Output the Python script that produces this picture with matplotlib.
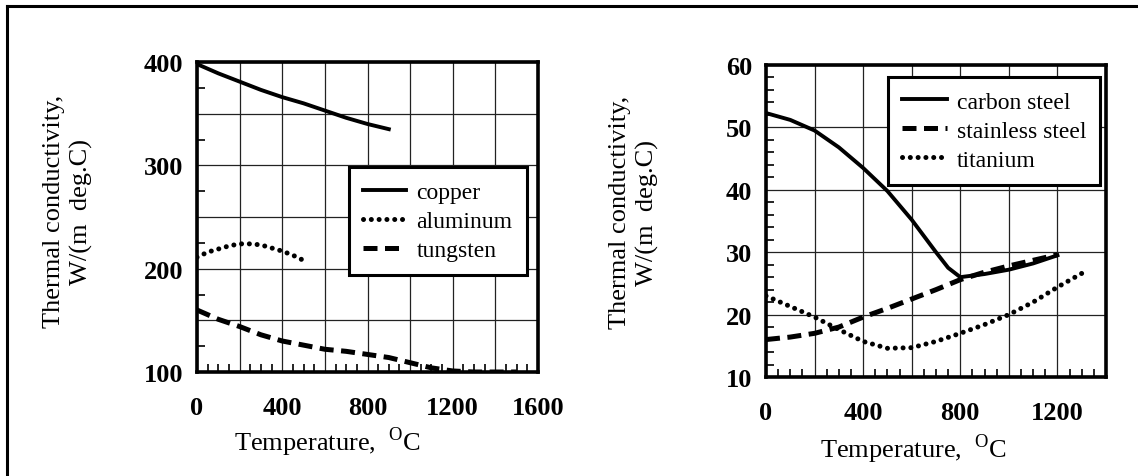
import matplotlib
matplotlib.use('Agg')
from matplotlib import pyplot as plt
from matplotlib.ticker import MultipleLocator, FuncFormatter
from matplotlib.lines import Line2D

plt.rcParams['font.family'] = ['Liberation Serif', 'DejaVu Serif']
plt.rcParams['mathtext.fontset'] = 'custom'
plt.rcParams['mathtext.rm'] = 'Liberation Serif'

# left panel: copper, aluminum, tungsten
copper_t = [0, 100, 200, 300, 400, 500, 600, 700, 800, 900]
copper_k = [398, 389, 381, 373, 366, 360, 353, 346, 340, 335]
aluminum_t = [0, 50, 100, 150, 200, 250, 300, 350, 400, 450, 500]
aluminum_k = [211, 216, 219, 222, 224, 224, 223, 220, 217, 213, 208]
tungsten_t = [0, 100, 200, 300, 400, 500, 600, 700, 800, 900, 1000, 1100, 1200, 1300, 1400, 1500]
tungsten_k = [160, 151, 144, 136, 130, 126, 122, 120, 117, 114, 109, 104, 101, 100, 100, 100]

# right panel: carbon steel, stainless steel, titanium
carbon_t = [0, 100, 200, 300, 400, 500, 600, 700, 750, 800, 900, 1000, 1100, 1200]
carbon_k = [52.3, 51.2, 49.5, 46.8, 43.5, 39.8, 35.2, 30, 27.5, 26, 26.5, 27.2, 28.2, 29.5]
stainless_t = [0, 100, 200, 300, 400, 500, 600, 700, 800, 900, 1000, 1100, 1200]
stainless_k = [16, 16.4, 17, 18, 19.6, 21, 22.5, 24, 25.6, 26.8, 27.8, 28.7, 29.6]
titanium_t = [0, 100, 200, 300, 400, 500, 600, 700, 800, 900, 1000, 1100, 1200, 1300]
titanium_k = [23, 21.3, 19.6, 17.6, 15.7, 14.6, 14.7, 15.7, 17, 18.4, 20, 22, 24.4, 26.6]

ylabel = 'Thermal conductivity,\nW/(m  deg.C)'
xlabel = r'Temperature,  $^{\mathrm{O}}$C'

fig = plt.figure(figsize=(11.38, 4.77), dpi=100)
W, H = 1138.0, 477.0

# outer frame (top and left only)
fig.add_artist(Line2D([7 / W, 7 / W], [0, 1 - 7 / H], color='black', lw=2.2, transform=fig.transFigure))
fig.add_artist(Line2D([7 / W, 1], [1 - 7 / H, 1 - 7 / H], color='black', lw=2.2, transform=fig.transFigure))

ax1 = fig.add_axes([197 / W, 1 - 373 / H, 341 / W, 310 / H])
ax2 = fig.add_axes([766 / W, 1 - 378 / H, 340 / W, 312 / H])

dot = (0, (0.01, 1.55))
dash = (0, (2.8, 1.5))

ax1.plot(copper_t, copper_k, color='black', lw=2.8, label='copper')
ax1.plot(aluminum_t, aluminum_k, color='black', lw=3.6, ls=dot, dash_capstyle='round', label='aluminum')
ax1.plot(tungsten_t, tungsten_k, color='black', lw=3.6, ls=dash, label='tungsten')
ax1.set_xlim(0, 1600)
ax1.set_ylim(100, 400)
ax1.yaxis.set_major_locator(MultipleLocator(50))
ax1.yaxis.set_minor_locator(MultipleLocator(25))
ax1.yaxis.set_major_formatter(FuncFormatter(lambda v, p: '%d' % v if v % 100 == 0 else ''))

ax2.plot(carbon_t, carbon_k, color='black', lw=2.8, label='carbon steel')
ax2.plot(stainless_t, stainless_k, color='black', lw=3.6, ls=dash, label='stainless steel')
ax2.plot(titanium_t, titanium_k, color='black', lw=3.6, ls=dot, dash_capstyle='round', label='titanium')
ax2.set_xlim(0, 1400)
ax2.set_ylim(10, 60)
ax2.yaxis.set_major_locator(MultipleLocator(10))
ax2.yaxis.set_minor_locator(MultipleLocator(2))

for ax in [ax1, ax2]:
    ax.xaxis.set_major_locator(MultipleLocator(200))
    ax.xaxis.set_minor_locator(MultipleLocator(50))
    ax.xaxis.set_major_formatter(FuncFormatter(lambda v, p: '%d' % v if v % 400 == 0 else ''))
    ax.grid(True, which='major', color='#222222', lw=0.9)
    ax.tick_params(which='both', direction='in', top=False, right=False, labelsize=19, width=1.2, color='black')
    ax.tick_params(which='major', length=0)
    ax.tick_params(which='minor', length=6)
    ax.tick_params(axis='x', pad=17)
    ax.tick_params(axis='y', pad=10)
    for lab in ax.get_xticklabels() + ax.get_yticklabels():
        lab.set_fontweight('bold')
    for s in ax.spines.values():
        s.set_linewidth(2.6)
    ax.set_ylabel(ylabel, fontsize=19, linespacing=1.25)
    ax.set_xlabel(xlabel, fontsize=19)

ax1.yaxis.set_label_coords(-0.305, 0.52)
ax1.xaxis.set_label_coords(0.384, -0.17)
ax2.yaxis.set_label_coords(-0.315, 0.53)
ax2.xaxis.set_label_coords(0.435, -0.175)

leg1 = ax1.legend(loc='upper left', bbox_to_anchor=(0.446, 0.661), fontsize=17, handlelength=1.8,
                  handletextpad=0.45, labelspacing=0.32, borderpad=0.6, fancybox=False,
                  edgecolor='black', framealpha=1, borderaxespad=0)
leg1.get_frame().set_linewidth(2.2)
leg2 = ax2.legend(loc='upper left', bbox_to_anchor=(0.359, 0.962), fontsize=17, handlelength=1.9,
                  handletextpad=0.4, labelspacing=0.32, borderpad=0.6, fancybox=False,
                  edgecolor='black', framealpha=1, borderaxespad=0)
leg2.get_frame().set_linewidth(2.2)

fig.savefig('out.png', dpi=100)
